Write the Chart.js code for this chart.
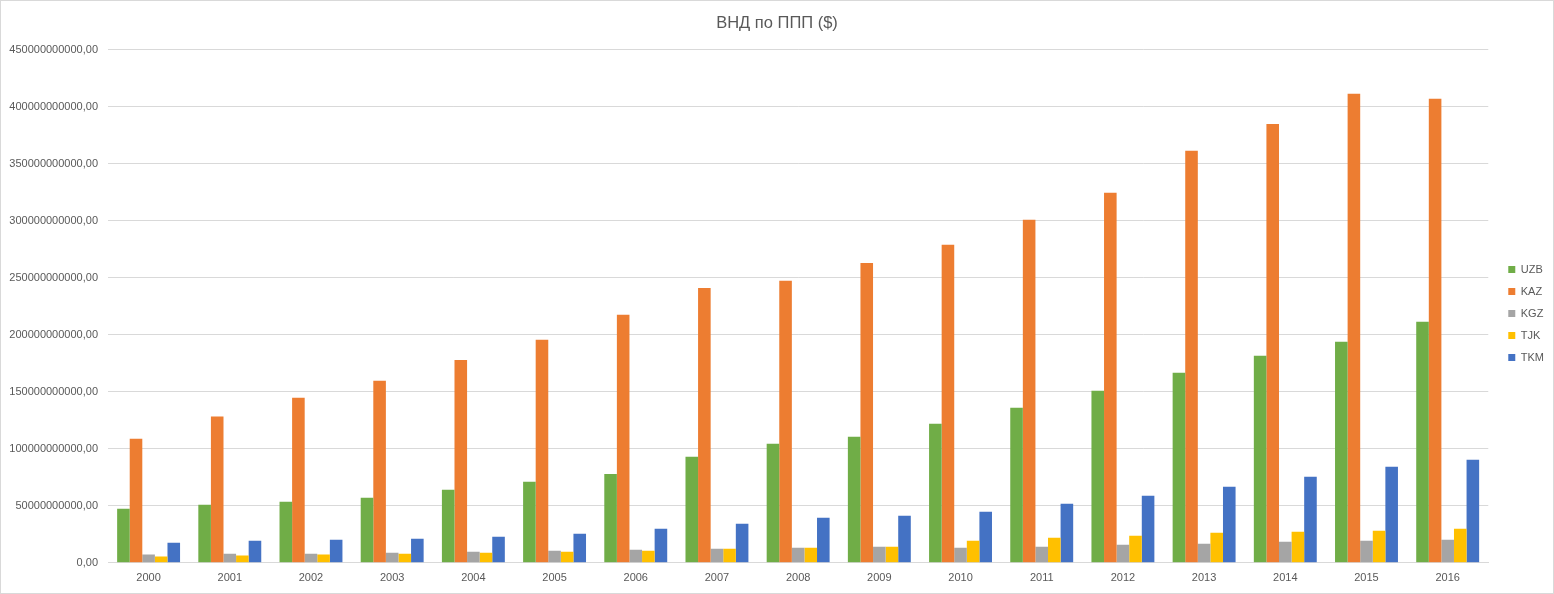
<!DOCTYPE html>
<html>
<head>
<meta charset="utf-8">
<script src="https://cdn.jsdelivr.net/npm/chart.js@4/dist/chart.umd.min.js"></script>
<style>
  html, body { margin: 0; padding: 0; background: #fff; }
  #wrap { position: relative; width: 1554px; height: 594px; box-sizing: border-box; border: 1px solid #d9d9d9; background: #fff; }
  canvas { display: block; }
</style>
</head>
<body>
<div id="wrap"><canvas id="c" width="1552" height="592"></canvas></div>
<script>
const years = ['2000','2001','2002','2003','2004','2005','2006','2007','2008','2009','2010','2011','2012','2013','2014','2015','2016'];
// values in billions of $
const UZB = [47.4, 50.9, 53.5, 57.0, 64.0, 71.0, 78.0, 93.0, 104.4, 110.5, 122.0, 136.0, 150.9, 166.7, 181.6, 193.9, 211.4];
const KAZ = [108.8, 128.4, 144.7, 159.6, 178.0, 195.6, 217.5, 241.0, 247.4, 263.0, 279.0, 301.0, 324.6, 361.4, 385.0, 411.4, 407.0];
const KGZ = [7.3, 7.9, 7.9, 8.8, 9.6, 10.5, 11.4, 12.3, 13.2, 14.0, 13.2, 14.0, 15.8, 16.7, 18.4, 19.3, 20.2];
const TJK = [5.6, 6.4, 7.3, 7.9, 8.8, 9.6, 10.5, 12.3, 13.2, 14.0, 19.3, 21.9, 23.7, 26.3, 27.2, 28.1, 29.8];
const TKM = [17.5, 19.3, 20.2, 21.0, 22.8, 25.4, 29.8, 34.2, 39.5, 41.2, 44.7, 51.8, 58.8, 66.7, 75.4, 84.2, 90.4];
const seriesNames = ['UZB','KAZ','KGZ','TJK','TKM'];
const seriesValues = [UZB, KAZ, KGZ, TJK, TKM];
const seriesColors = ['#70AD47','#ED7D31','#A5A5A5','#FFC000','#4472C4'];
const yMax = 450e9;
const yStep = 50e9;
const titleText = 'ВНД по ППП ($)';

const FONT = "'Liberation Sans', Arial, sans-serif";
const TXT = '#595959';

const legendShift = {
  id: 'legendShift',
  afterLayout(chart) {
    const lg = chart.legend;
    if (!lg) return;
    lg.left += 9; lg.right += 9;
    lg.top += 16; lg.bottom += 16;
  }
};

new Chart(document.getElementById('c'), {
  type: 'bar',
  data: {
    labels: years,
    datasets: seriesNames.map((n, i) => ({
      label: n,
      data: seriesValues[i].map(v => v * 1e9),
      backgroundColor: seriesColors[i],
      borderWidth: 0,
      categoryPercentage: 0.775,
      barPercentage: 1.0
    }))
  },
  plugins: [legendShift],
  options: {
    responsive: false,
    animation: false,
    layout: { padding: { left: 8, right: 8, top: 0, bottom: -1 } },
    plugins: {
      title: {
        display: true, text: titleText, color: TXT,
        font: { family: FONT, size: 16.5, weight: 'normal' },
        padding: { top: 13, bottom: 16 }
      },
      legend: {
        position: 'right',
        labels: {
          boxWidth: 7, boxHeight: 7, padding: 11, color: TXT,
          font: { family: FONT, size: 11 }
        }
      },
      tooltip: { enabled: false }
    },
    scales: {
      x: {
        grid: { display: false, drawTicks: false },
        border: { display: true, color: '#d9d9d9' },
        ticks: { color: TXT, font: { family: FONT, size: 11 }, padding: 9, maxRotation: 0 }
      },
      y: {
        min: 0, max: yMax,
        afterFit: s => { s.width = 99; },
        grid: { color: '#d9d9d9', drawTicks: false },
        border: { display: false },
        ticks: {
          stepSize: yStep, color: TXT, padding: 10,
          font: { family: FONT, size: 11 },
          callback: v => Math.round(v).toString() + ',00'
        }
      }
    }
  }
});
</script>
</body>
</html>
